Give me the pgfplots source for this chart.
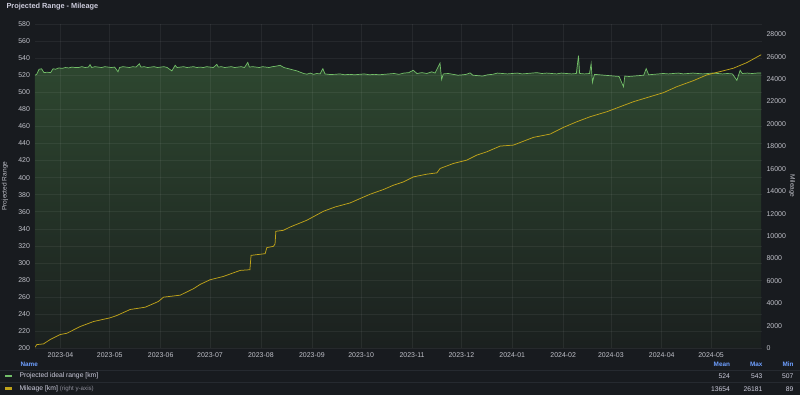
\documentclass[border=0pt]{standalone}
\usepackage{pgfplots}
\pgfplotsset{compat=1.18}
\usepackage{pgfplotstable}
\usepackage{fontspec}
\setmainfont{Liberation Sans}
\definecolor{bg}{HTML}{181B1F}
\definecolor{txt}{HTML}{CCCCDC}
\definecolor{tickc}{HTML}{BFC0C8}
\definecolor{rgreen}{HTML}{73BF69}
\definecolor{fillTop}{HTML}{2E4830}
\definecolor{fillBot}{HTML}{1B201F}
\definecolor{myellow}{HTML}{BFA31A}
\definecolor{hblue}{HTML}{6E9FFF}
\definecolor{dimtxt}{HTML}{8E8E9A}
\definecolor{sep}{HTML}{262A30}

\pgfplotstableread{
d v
-15.5 520
-14.5 521
-13 527
-11.5 527.5
-10 523
-8 523.5
-6 523
-4.5 527.5
-3 527
-1 528.5
1 528
3 529
5 528.5
7 529.5
9 529
11 529
13 530
15 529
17 529.5
18 532.4
19 529
21 530
23 529.5
25 529
27 530
29 529.5
31 529
33 529.5
35 524
36 529
38 530
40 529.5
42 529
44 530
46 529.5
48 533.5
49 529.5
51 530
53 529
55 529.5
57 530
59 529
61 529.5
63 530
65 529
67.8 525
69.8 531.6
71 529
73 529.5
75 530
77 529
79 529.5
81 530
83 529
85 529.5
87 529
89 530
91 529.5
93 529
95.2 532.7
96 529.5
98 530
100 529
102 529.5
104 530
106 529
108 529.5
110 530
112 529
114 535
115 529.5
117 530
119 529.5
121 529
123 530
125 529.5
127 529
129 530
131 530.5
133.7 531.6
136 529
138 528
140 527
142 526
144 525
146 523.5
148 522
150 521.2
152 522.5
154 521
156 522
158 521.5
159.7 527.7
161 521.5
164 520.8
167 521
170 521.5
173 520.5
176 521
179 520.5
182 521
185 521.5
188 520.5
191 521
194 520.5
197 521
200 521.5
203 522
206 521
209 522.5
212 523
214.7 525.8
217 522
220 523
223 522
226 524
228 522.5
231 534.2
232 515
233 521.5
236 522
239 521
242 520
245 520.5
247 521
249.3 522.7
251 520
254 519.5
257 519
260 520.5
263 521
266 522.5
269 522
272 521.5
275 522
278 522.5
281 521.5
284 522
287 522.5
290 523
293 522
296 522.5
299 522
302 521.5
305 522.5
308 522
311 521.5
314 522
315.3 543
316 522
319 521.5
322 522
323 533.5
323.8 511.6
325 521
328 520.5
331 520
334 519.5
337 519
340 518.5
342.7 506.5
343.5 519
346 518.5
349 519
352 519.5
355 520
356.5 527.7
358 520.5
361 521
364 521.5
367 522
370 521.5
373 522
376 522.5
379 521.5
382 522
385 522.5
388 522
391 521.5
394 522
397 522.5
400 522
403 521.5
406 522
409 521.5
411.7 514
413.7 525.8
415 522
418 522.5
421 522
424 522.5
426.5 522.5
}\rangetab

\pgfplotstableread{
d km
-15.5 89
-14.4 330
-10.3 393
-6.3 778
-0.2 1225
3.9 1341
12.0 1940
20.1 2387
30.2 2718
34.3 2923
42.4 3460
51.6 3665
59.6 4175
62.7 4559
72.9 4738
80.9 5310
85.0 5695
91.1 6115
99.2 6410
109.4 6946
115.3 7009
116.0 8287
124.6 8439
125.6 8976
129.6 9092
130.6 9300
131.1 10433
135.7 10522
139.8 10817
149.9 11416
160.1 12221
167.2 12605
176.3 12963
182.4 13356
188.5 13741
196.6 14161
202.7 14545
208.8 14840
214.9 15287
223.0 15529
229.1 15645
231.1 16038
239.2 16485
247.3 16780
253.4 17227
259.5 17522
267.6 18032
275.7 18121
287.9 18810
298.1 19105
306.2 19704
314.3 20204
322.4 20651
332.6 21098
340.7 21545
348.8 21992
358.9 22439
367.0 22797
375.2 23333
385.3 23870
393.4 24379
401.5 24674
409.6 24978
417.8 25479
426.5 26181
}\miletab

\begin{document}
\begin{tikzpicture}
\path[use as bounding box] (0,0) rectangle (800bp,395bp);
\fill[bg] (0,0) rectangle (800bp,395bp);

\pgfplotsset{
  common/.style={
    at={(35bp,46.7bp)}, anchor=south west,
    scale only axis, width=727bp, height=324.3bp,
    xmin=-15.5, xmax=427,
    axis line style={draw=none}, major tick length=0pt,
    tick label style={font=\fontsize{7}{8}\selectfont, text=tickc},
    /pgf/number format/assume math mode=true,
    /pgf/number format/1000 sep={},
    scaled y ticks=false,
  }
}

\begin{axis}[common,
  ymin=200, ymax=580,
  ytick={200,220,...,580},
  xtick={0,30,61,91,122,153,183,214,244,275,306,335,366,396},
  xticklabels={2023-04,2023-05,2023-06,2023-07,2023-08,2023-09,2023-10,2023-11,2023-12,2024-01,2024-02,2024-03,2024-04,2024-05},
  xticklabel style={yshift=-1bp},
  yticklabel style={xshift=-1.5bp},
  grid=major, grid style={white, opacity=0.06, line width=0.6bp},
  axis on top,
  ylabel={Projected Range},
  every axis y label/.style={at={(axis description cs:0,0.5)}, xshift=-30bp, rotate=90, anchor=center, font=\fontsize{6.6}{8}\selectfont, text=tickc},
]
\addplot[top color=fillTop, bottom color=fillBot, draw=none] table[x=d, y=v] {\rangetab} \closedcycle;
\addplot[rgreen, line width=0.7bp] table[x=d, y=v] {\rangetab};
\end{axis}

\begin{axis}[common,
  ymin=0, ymax=28920,
  ytick={0,2000,...,28000},
  axis x line=none,
  axis y line*=right,
  yticklabel style={xshift=1bp},
  ylabel={Mileage},
  every axis y label/.style={at={(axis description cs:1,0.5)}, xshift=30bp, rotate=-90, anchor=center, font=\fontsize{6.6}{8}\selectfont, text=tickc},
]
\addplot[myellow, line width=0.75bp] table[x=d, y=km] {\miletab};
\end{axis}

% title
\node[anchor=west, text=txt, font=\fontsize{7.4}{9}\bfseries\selectfont] at (3bp,388bp) {Projected Range - Mileage};

% legend table
\draw[sep, line width=0.6bp] (0,25bp) -- (800bp,25bp);
\draw[sep, line width=0.6bp] (0,12.5bp) -- (800bp,12.5bp);
\node[anchor=west, text=hblue, font=\fontsize{6.4}{8}\bfseries\selectfont] at (17bp,30.7bp) {Name};
\node[anchor=east, text=hblue, font=\fontsize{6.4}{8}\bfseries\selectfont] at (733.5bp,30.7bp) {Mean};
\node[anchor=east, text=hblue, font=\fontsize{6.4}{8}\bfseries\selectfont] at (766bp,30.7bp) {Max};
\node[anchor=east, text=hblue, font=\fontsize{6.4}{8}\bfseries\selectfont] at (797bp,30.7bp) {Min};

\fill[rgreen] (5bp,18bp) rectangle (12bp,20.3bp);
\node[anchor=west, text=txt, font=\fontsize{6.8}{8}\selectfont] at (16bp,19bp) {Projected ideal range [km]};
\node[anchor=east, text=txt, font=\fontsize{6.8}{8}\selectfont] at (733.5bp,19bp) {524};
\node[anchor=east, text=txt, font=\fontsize{6.8}{8}\selectfont] at (766bp,19bp) {543};
\node[anchor=east, text=txt, font=\fontsize{6.8}{8}\selectfont] at (797bp,19bp) {507};

\fill[myellow] (5bp,5.3bp) rectangle (12bp,7.6bp);
\node[anchor=west, text=txt, font=\fontsize{6.8}{8}\selectfont] at (16bp,6.3bp) {Mileage [km] \textcolor{dimtxt}{\fontsize{6.2}{8}\selectfont(right y-axis)}};
\node[anchor=east, text=txt, font=\fontsize{6.8}{8}\selectfont] at (733.5bp,6.3bp) {13654};
\node[anchor=east, text=txt, font=\fontsize{6.8}{8}\selectfont] at (766bp,6.3bp) {26181};
\node[anchor=east, text=txt, font=\fontsize{6.8}{8}\selectfont] at (797bp,6.3bp) {89};
\end{tikzpicture}
\end{document}
